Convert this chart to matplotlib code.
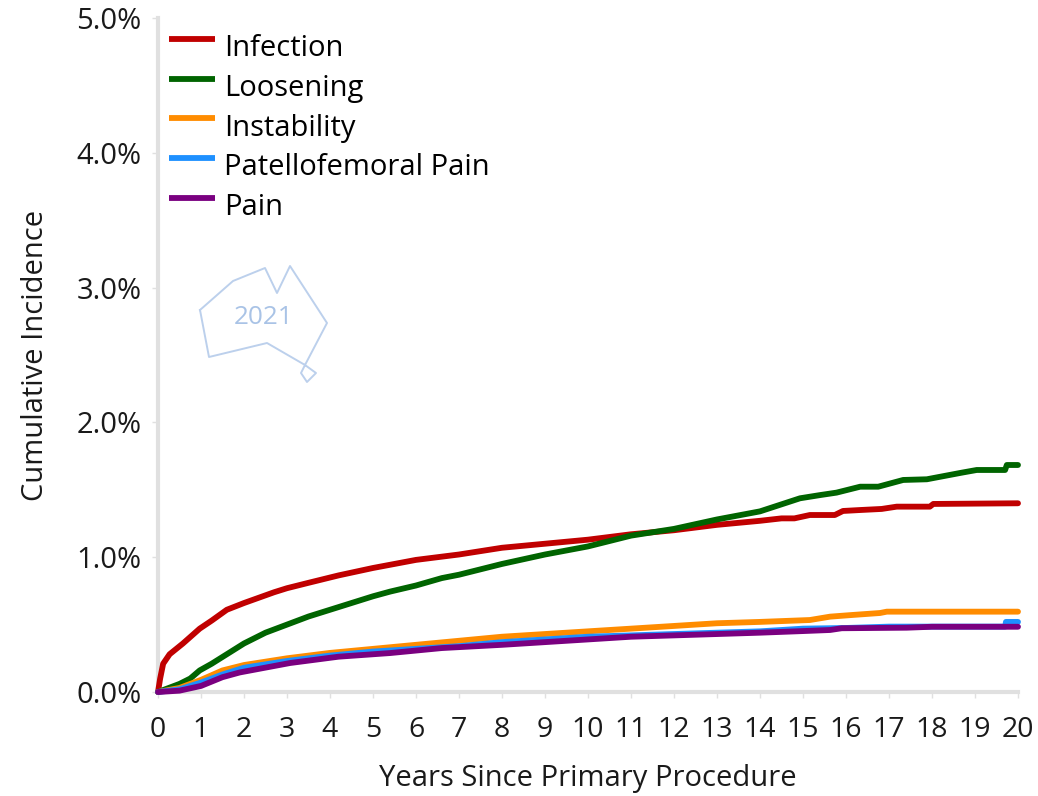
import matplotlib
matplotlib.use("Agg")
import matplotlib.pyplot as plt
from matplotlib.lines import Line2D

plt.rcParams['font.family'] = ['Open Sans', 'DejaVu Sans']

# Years and cumulative incidence (%)
infection_x = [0, 0.05, 0.12, 0.27, 0.58, 0.97, 1.25, 1.6, 2, 2.7, 3, 3.5, 4.2, 5, 6, 7, 8, 9, 10, 11, 12, 13, 14, 14.5, 14.8, 15.16, 15.74, 15.93, 16.33, 16.83, 17.18, 17.95, 18.03, 20]
infection_y = [0, 0.10, 0.21, 0.28, 0.36, 0.47, 0.53, 0.61, 0.66, 0.74, 0.77, 0.81, 0.865, 0.92, 0.98, 1.02, 1.07, 1.10, 1.13, 1.17, 1.20, 1.24, 1.27, 1.288, 1.288, 1.313, 1.313, 1.343, 1.35, 1.358, 1.375, 1.375, 1.395, 1.40]

loosening_x = [0, 0.5, 0.75, 0.97, 1.25, 1.5, 1.75, 2, 2.5, 3, 3.5, 4.2, 5, 5.4, 6, 6.6, 7, 8, 9, 10, 11, 12, 13, 14, 14.93, 15.4, 15.78, 16.33, 16.75, 17.33, 17.88, 18.69, 19.04, 19.7, 19.74, 20]
loosening_y = [0, 0.06, 0.10, 0.16, 0.21, 0.26, 0.31, 0.36, 0.44, 0.50, 0.56, 0.63, 0.71, 0.745, 0.79, 0.845, 0.87, 0.95, 1.02, 1.08, 1.16, 1.21, 1.28, 1.34, 1.437, 1.461, 1.479, 1.523, 1.523, 1.573, 1.578, 1.627, 1.647, 1.647, 1.684, 1.684]

instability_x = [0, 0.5, 1, 1.5, 2, 3, 4, 5, 6, 7, 8, 9, 10, 11, 12, 13, 14, 15.16, 15.63, 16.13, 16.79, 16.95, 20]
instability_y = [0, 0.03, 0.09, 0.16, 0.20, 0.25, 0.29, 0.32, 0.35, 0.38, 0.41, 0.43, 0.45, 0.47, 0.49, 0.51, 0.52, 0.534, 0.559, 0.571, 0.586, 0.596, 0.596]

patello_x = [0, 0.5, 1, 1.5, 2, 3, 4, 5, 6, 7, 8, 9, 10, 11, 12, 13, 14, 15, 16, 17, 19.7, 19.72, 20]
patello_y = [0, 0.02, 0.07, 0.13, 0.18, 0.23, 0.27, 0.30, 0.32, 0.34, 0.37, 0.39, 0.41, 0.42, 0.43, 0.44, 0.45, 0.47, 0.475, 0.485, 0.485, 0.52, 0.52]

pain_x = [0, 0.5, 1, 1.5, 1.9, 3.07, 4.2, 5.4, 6.6, 8, 9, 10, 11, 12, 13, 14, 15, 15.63, 15.9, 17.41, 18, 20]
pain_y = [0, 0.01, 0.045, 0.11, 0.145, 0.215, 0.262, 0.289, 0.326, 0.35, 0.37, 0.39, 0.41, 0.42, 0.43, 0.44, 0.452, 0.46, 0.473, 0.477, 0.484, 0.484]

names = ["Infection", "Loosening", "Instability", "Patellofemoral Pain", "Pain"]
colors = ["#c00000", "#006400", "#ff8c00", "#1e90ff", "#7a0080"]

# Watermark outline, figure pixels from top left
map_x = [200, 233, 265, 277, 290, 327, 305, 316, 307, 301, 305, 267, 209, 200]
map_y = [310, 281, 268, 293, 266, 323, 365, 373, 382, 373, 365, 343, 357, 310]

W, H = 1038, 796
fig = plt.figure(figsize=(W / 100, H / 100), dpi=100)
ax = fig.add_axes([158 / W, 1 - 692 / H, (1018 - 158) / W, (692 - 18) / H])

series = [(infection_x, infection_y), (loosening_x, loosening_y), (instability_x, instability_y),
          (patello_x, patello_y), (pain_x, pain_y)]
for (xs, ys), name, col in zip(series, names, colors):
    ax.plot(xs, ys, color=col, lw=4.2, label=name, clip_on=False, solid_capstyle='round', zorder=3)

ax.set_xlim(0, 20)
ax.set_ylim(0, 5)
ax.set_xticks(range(0, 21))
ax.set_yticks([0, 1, 2, 3, 4, 5])
ax.set_yticklabels(["0.0%", "1.0%", "2.0%", "3.0%", "4.0%", "5.0%"])
ax.tick_params(axis='both', labelsize=21, color='#e0e0e0', length=4, width=1, labelcolor='#1a1a1a')
ax.tick_params(axis='x', labelsize=20.5, pad=13)
ax.tick_params(axis='y', pad=8)

for side in ['top', 'right']:
    ax.spines[side].set_visible(False)
for side in ['left', 'bottom']:
    ax.spines[side].set_color('#e0e0e0')
    ax.spines[side].set_linewidth(3)

ax.set_xlabel("Years Since Primary Procedure", fontsize=21, color='#1a1a1a', labelpad=15)
ax.set_ylabel("Cumulative Incidence", fontsize=21, color='#1a1a1a', labelpad=19)

handles, labels = ax.get_legend_handles_labels()
leg = ax.legend(handles, labels, loc='upper left', bbox_to_anchor=(0.006, 0.985), frameon=False, fontsize=21,
                handlelength=1.58, handletextpad=0.32, labelspacing=0.37, borderpad=0.2, borderaxespad=0)
for line in leg.get_lines():
    line.set_solid_capstyle('butt')
    line.set_ydata([v + 5 for v in line.get_ydata()])

# watermark
fig.add_artist(Line2D([x / W for x in map_x], [1 - y / H for y in map_y], color='#bcd0ec', lw=1.4,
                      transform=fig.transFigure))
fig.text(263.5 / W, 1 - 317 / H, "2021", color='#a9c3e6', fontsize=18.8, ha='center', va='center')

fig.savefig("out.png", dpi=100)
